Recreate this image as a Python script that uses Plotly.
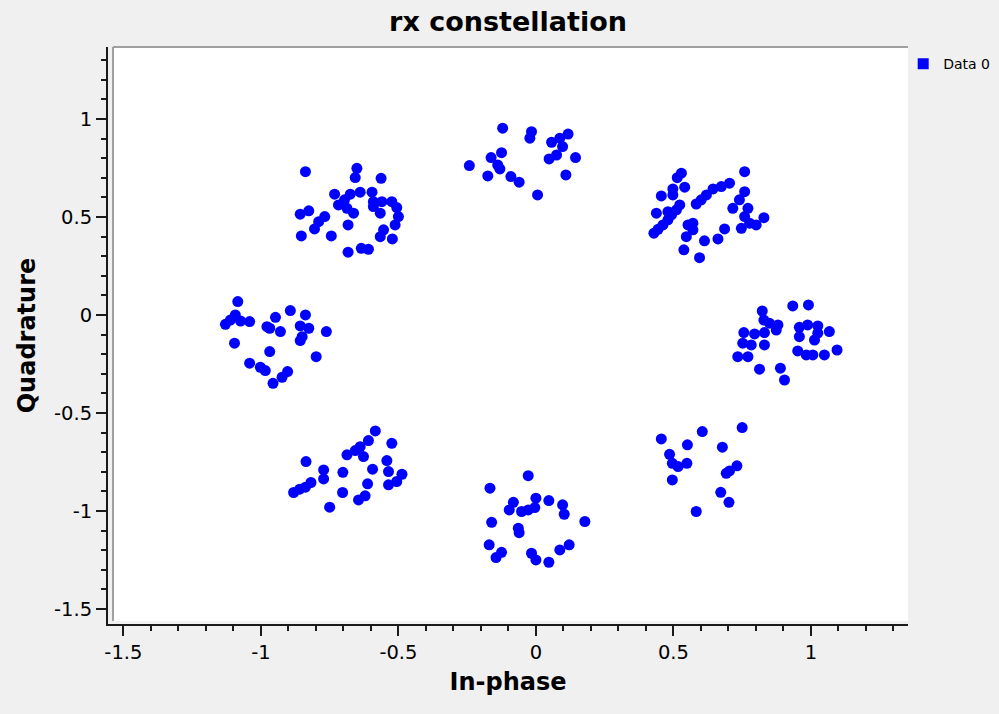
import plotly.graph_objects as go

# ── data: (in-phase, quadrature) samples, one list per symbol ──

top = [
    (-0.121, 0.953), (-0.016, 0.935), (-0.022, 0.902), (0.117, 0.923), (0.057, 0.881),
    (0.087, 0.902), (0.097, 0.859), (0.075, 0.816), (0.048, 0.796), (0.144, 0.803),
    (0.109, 0.714), (-0.125, 0.828), (-0.163, 0.803), (-0.139, 0.765), (-0.131, 0.745),
    (-0.242, 0.762), (-0.175, 0.709), (-0.091, 0.706), (-0.061, 0.677), (0.006, 0.612),
]

top_right = [
    (0.529, 0.723), (0.514, 0.700), (0.541, 0.652), (0.498, 0.643), (0.498, 0.612),
    (0.456, 0.607), (0.759, 0.731), (0.759, 0.629), (0.704, 0.672), (0.674, 0.655),
    (0.644, 0.643), (0.620, 0.612), (0.601, 0.587), (0.583, 0.566), (0.523, 0.561),
    (0.511, 0.536), (0.493, 0.510), (0.480, 0.485), (0.462, 0.459), (0.444, 0.437),
    (0.429, 0.417), (0.438, 0.519), (0.740, 0.587), (0.716, 0.544), (0.771, 0.544),
    (0.759, 0.502), (0.777, 0.468), (0.801, 0.459), (0.829, 0.496), (0.747, 0.442),
    (0.571, 0.468), (0.553, 0.459), (0.571, 0.434), (0.547, 0.399), (0.686, 0.439),
    (0.662, 0.388), (0.613, 0.378), (0.538, 0.332), (0.595, 0.292), (0.480, 0.527),
]

right = [
    (0.934, 0.046), (0.991, 0.051), (0.823, 0.020), (0.829, -0.026), (0.849, -0.042),
    (0.880, -0.051), (0.874, -0.077), (0.756, -0.090), (0.795, -0.097), (0.831, -0.090),
    (0.752, -0.144), (0.783, -0.153), (0.831, -0.153), (0.734, -0.213), (0.771, -0.213),
    (0.958, -0.063), (0.988, -0.051), (1.025, -0.056), (0.958, -0.111), (1.025, -0.093),
    (1.013, -0.128), (1.067, -0.085), (0.952, -0.184), (0.983, -0.204), (1.007, -0.204),
    (1.049, -0.204), (1.095, -0.179), (0.813, -0.277), (0.889, -0.272), (0.904, -0.332),
]

bottom_right = [
    (0.456, -0.633), (0.605, -0.595), (0.750, -0.575), (0.551, -0.663), (0.678, -0.675),
    (0.486, -0.711), (0.496, -0.757), (0.517, -0.774), (0.549, -0.757), (0.496, -0.842),
    (0.731, -0.770), (0.704, -0.796), (0.692, -0.808), (0.672, -0.905), (0.702, -0.956),
    (0.583, -1.003),
]

bottom = [
    (-0.028, -0.820), (-0.167, -0.884), (0.000, -0.935), (0.047, -0.947), (-0.082, -0.956),
    (-0.097, -0.995), (-0.052, -1.003), (-0.028, -0.995), (-0.004, -0.983), (0.097, -0.969),
    (0.103, -1.017), (-0.161, -1.058), (0.178, -1.054), (-0.064, -1.088), (-0.061, -1.111),
    (-0.170, -1.173), (-0.125, -1.211), (-0.145, -1.238), (0.121, -1.173), (0.087, -1.199),
    (-0.016, -1.216), (0.000, -1.250), (0.047, -1.262),
]

bottom_left = [
    (-0.584, -0.592), (-0.609, -0.641), (-0.524, -0.655), (-0.639, -0.672), (-0.657, -0.692),
    (-0.687, -0.714), (-0.627, -0.723), (-0.836, -0.748), (-0.542, -0.743), (-0.772, -0.791),
    (-0.702, -0.803), (-0.594, -0.787), (-0.536, -0.799), (-0.487, -0.813), (-0.772, -0.837),
    (-0.506, -0.850), (-0.536, -0.867), (-0.612, -0.862), (-0.818, -0.855), (-0.838, -0.879),
    (-0.859, -0.889), (-0.881, -0.906), (-0.703, -0.906), (-0.621, -0.923), (-0.645, -0.944),
    (-0.750, -0.981),
]

left = [
    (-1.084, 0.068), (-1.093, 0.000), (-1.111, -0.026), (-1.129, -0.048), (-1.074, -0.031),
    (-1.041, -0.034), (-0.893, 0.022), (-0.947, -0.012), (-0.838, 0.000), (-0.978, -0.060),
    (-0.968, -0.068), (-0.929, -0.085), (-0.857, -0.056), (-0.826, -0.068), (-0.762, -0.085),
    (-0.850, -0.111), (-0.857, -0.131), (-1.096, -0.144), (-0.968, -0.187), (-0.799, -0.213),
    (-1.041, -0.246), (-1.002, -0.267), (-0.984, -0.284), (-0.903, -0.289), (-0.923, -0.318),
    (-0.956, -0.349),
]

top_left = [
    (-0.838, 0.731), (-0.651, 0.748), (-0.657, 0.701), (-0.563, 0.697), (-0.732, 0.616),
    (-0.675, 0.616), (-0.639, 0.626), (-0.596, 0.626), (-0.696, 0.587), (-0.718, 0.561),
    (-0.687, 0.544), (-0.663, 0.519), (-0.591, 0.578), (-0.591, 0.553), (-0.560, 0.578),
    (-0.524, 0.578), (-0.506, 0.548), (-0.566, 0.519), (-0.500, 0.502), (-0.512, 0.459),
    (-0.554, 0.434), (-0.566, 0.399), (-0.522, 0.388), (-0.857, 0.514), (-0.826, 0.531),
    (-0.768, 0.502), (-0.790, 0.476), (-0.805, 0.439), (-0.683, 0.459), (-0.853, 0.403),
    (-0.744, 0.403), (-0.683, 0.320), (-0.635, 0.340), (-0.609, 0.335),
]

tick_vals = [-1.5, -1, -0.5, 0, 0.5, 1]
tick_text = ["-1.5", "-1", "-0.5", "0", "0.5", "1"]

# ── build ─────────────────────────────────────────────────────────────────────

samples = top + top_right + right + bottom_right + bottom + bottom_left + left + top_left
i_vals = [s[0] for s in samples]
q_vals = [s[1] for s in samples]

BG     = "#f0f0f0"
CANVAS = "#ffffff"
FRAME  = "#a0a0a0"
INK    = "#1a1a1a"
BLUE   = "#0000ff"
FONT   = "DejaVu Sans"

fig = go.Figure()

fig.add_trace(go.Scatter(
    x=i_vals, y=q_vals,
    mode="markers",
    marker=dict(color=BLUE, size=11, line=dict(width=0)),
    showlegend=False,
))

# legend entry only (Qwt draws a square swatch)
fig.add_trace(go.Scatter(
    x=[None], y=[None],
    mode="markers",
    name="Data 0",
    marker=dict(color=BLUE, size=11, symbol="square"),
))

# white sunken canvas, offset a few px from the axis lines
fig.add_shape(type="rect", xref="paper", yref="paper",
              x0=0.00625, x1=1, y0=0.0052, y1=1,
              fillcolor=CANVAS, line_width=0, layer="below")
fig.add_shape(type="line", xref="paper", yref="paper",
              x0=0.00625, x1=0.00625, y0=0.0052, y1=1,
              line=dict(color=FRAME, width=2), layer="below")
fig.add_shape(type="line", xref="paper", yref="paper",
              x0=0.00625, x1=1, y0=1, y1=1,
              line=dict(color=FRAME, width=2), layer="below")

axis_common = dict(
    tickmode="array",
    tickvals=tick_vals,
    ticktext=tick_text,
    ticks="outside",
    ticklen=10,
    tickwidth=2,
    tickcolor=INK,
    showline=True,
    linewidth=2,
    linecolor=INK,
    showgrid=False,
    zeroline=False,
    tickfont=dict(family=FONT, size=19.5, color="#000000"),
    minor=dict(tickmode="linear", tick0=0, dtick=0.1, ticks="outside",
               ticklen=5, tickwidth=1.5, tickcolor=INK, showgrid=False),
)

fig.update_xaxes(
    range=[-1.556, 1.353],
    title=dict(text="In-phase", standoff=10,
               font=dict(family=FONT, size=24, weight="bold", color="#000000")),
    **axis_common,
)
fig.update_yaxes(
    range=[-1.577, 1.367],
    title=dict(text="Quadrature", standoff=12,
               font=dict(family=FONT, size=24, weight="bold", color="#000000")),
    **axis_common,
)

fig.update_layout(
    width=999,
    height=714,
    paper_bgcolor=BG,
    plot_bgcolor=BG,
    margin=dict(l=108, r=91, t=47, b=90, autoexpand=False),
    title=dict(
        text="rx constellation",
        x=0.5, xref="paper", xanchor="center",
        y=1 - 22 / 714, yref="container", yanchor="middle",
        font=dict(family=FONT, size=27, weight="bold", color="#000000"),
    ),
    legend=dict(
        x=0.994, xanchor="left",
        y=0.998, yanchor="top",
        bgcolor="rgba(0,0,0,0)",
        font=dict(family=FONT, size=14, color="#000000"),
        itemclick=False,
    ),
    showlegend=True,
)

# drop the browser's default body margin so the 999x714 figure fills the window
fig.write_html(
    "out.html",
    config={"displayModeBar": False},
    post_script="document.body.style.margin='0';",
)
